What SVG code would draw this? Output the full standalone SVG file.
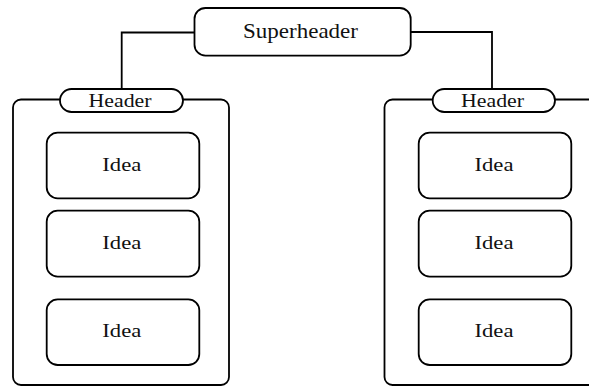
<svg xmlns="http://www.w3.org/2000/svg" width="589" height="387" viewBox="0 0 589 387">
<style>
.box{fill:#fff;stroke:#000;stroke-width:1.8}
.ln{fill:none;stroke:#000;stroke-width:1.8}
text{font-family:"Liberation Serif","Times New Roman",serif;fill:#111;text-anchor:middle}
.sh{font-size:21px}
.hd{font-size:18px}
.id{font-size:19px}
</style>
<rect width="589" height="387" fill="#fff"/>
<g id="frames">
<path class="ln" d="M60,99.5 H21 A8,8 0 0 0 13,107.5 V377 A8,8 0 0 0 21,385 H221 A8,8 0 0 0 229,377 V107.5 A8,8 0 0 0 221,99.5 H183"/>
<path class="ln" d="M433,99.5 H392.5 A8,8 0 0 0 384.5,107.5 V377 A8,8 0 0 0 392.5,385 H590 M555,99.5 H590"/>
</g>
<g id="connectors">
<path class="ln" d="M194.5,32.5 H121.7 V89"/>
<path class="ln" d="M410.7,32 H492 V89"/>
</g>
<g id="superheader">
<rect class="box" x="194.5" y="8" width="216.2" height="47.7" rx="11"/>
<text class="sh" x="300.5" y="38.3" textLength="115" lengthAdjust="spacingAndGlyphs">Superheader</text>
</g>
<g id="header-left">
<rect class="box" x="60" y="89" width="123" height="23" rx="11.5"/>
<text class="hd" x="120" y="106.5" textLength="63" lengthAdjust="spacingAndGlyphs">Header</text>
</g>
<g id="header-right">
<rect class="box" x="432.7" y="89" width="122.3" height="23" rx="11.5"/>
<text class="hd" x="492.5" y="106.5" textLength="63" lengthAdjust="spacingAndGlyphs">Header</text>
</g>
<g id="idea-l1">
<rect class="box" x="46.7" y="132.7" width="152.6" height="65.6" rx="11"/>
<text class="id" x="121.8" y="170.6" textLength="39" lengthAdjust="spacingAndGlyphs">Idea</text>
</g>
<g id="idea-l2">
<rect class="box" x="46.7" y="210.7" width="152.6" height="66" rx="11"/>
<text class="id" x="121.8" y="248.8" textLength="39" lengthAdjust="spacingAndGlyphs">Idea</text>
</g>
<g id="idea-l3">
<rect class="box" x="46.7" y="299.3" width="152.6" height="65.7" rx="11"/>
<text class="id" x="121.8" y="337.2" textLength="39" lengthAdjust="spacingAndGlyphs">Idea</text>
</g>
<g id="idea-r1">
<rect class="box" x="418.7" y="132.7" width="152.6" height="65.6" rx="11"/>
<text class="id" x="494" y="170.6" textLength="39" lengthAdjust="spacingAndGlyphs">Idea</text>
</g>
<g id="idea-r2">
<rect class="box" x="418.7" y="210.7" width="152.6" height="66" rx="11"/>
<text class="id" x="494" y="248.8" textLength="39" lengthAdjust="spacingAndGlyphs">Idea</text>
</g>
<g id="idea-r3">
<rect class="box" x="418.7" y="299.3" width="152.6" height="65.7" rx="11"/>
<text class="id" x="494" y="337.2" textLength="39" lengthAdjust="spacingAndGlyphs">Idea</text>
</g>
</svg>
